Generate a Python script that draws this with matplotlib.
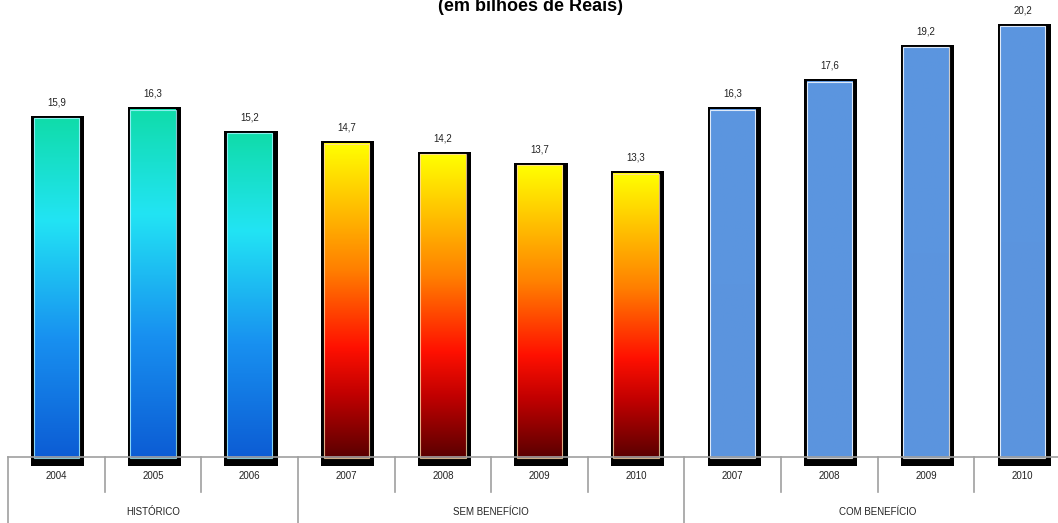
import numpy as np
import matplotlib
matplotlib.use("Agg")
import matplotlib.pyplot as plt
from matplotlib.colors import LinearSegmentedColormap
from matplotlib.patches import Rectangle

# data
years = ["2004", "2005", "2006", "2007", "2008", "2009", "2010",
         "2007", "2008", "2009", "2010"]
values = [15.9, 16.3, 15.2, 14.7, 14.2, 13.7, 13.3, 16.3, 17.6, 19.2, 20.2]
groups = ["HISTÓRICO", "SEM BENEFÍCIO", "COM BENEFÍCIO"]
group_sizes = [3, 4, 4]

# gradients, listed bottom -> top
cmaps = [
    LinearSegmentedColormap.from_list("hist", [(0.0, "#0c5cd4"), (0.35, "#1890f0"),
                                               (0.7, "#22e4f4"), (1.0, "#10dcaa")]),
    LinearSegmentedColormap.from_list("sem", [(0.0, "#5a0000"), (0.2, "#c00000"),
                                              (0.35, "#ff1000"), (0.6, "#ff8000"),
                                              (1.0, "#ffff00")]),
    LinearSegmentedColormap.from_list("com", ["#5b94de", "#5b96e0"]),
]
edge_colors = ["#a8f4ff", "#ffd8a8", "#ffffff"]

plt.rcParams["font.family"] = ["Liberation Sans", "DejaVu Sans"]

fig = plt.figure(figsize=(10.58, 5.23), dpi=100)
ax = fig.add_axes([8 / 1058, 66 / 523, 1063 / 1058, 457 / 523])
ax.set_xlim(-0.5, len(values) - 0.5)
ax.set_ylim(0, 21.36)
ax.axis("off")

grad = np.linspace(0, 1, 256).reshape(-1, 1)
grp_idx = np.repeat(np.arange(len(groups)), group_sizes)

x = np.arange(len(values))
# black frame behind each bar
ax.bar(x + 0.015, np.array(values) + 0.45, width=0.55, bottom=-0.4,
       color="black", zorder=2, clip_on=False)
for xi, v, g in zip(x, values, grp_idx):
    ax.imshow(grad, cmap=cmaps[g], origin="lower", aspect="auto",
              extent=(xi - 0.235, xi + 0.235, -0.05, v - 0.06),
              zorder=3, clip_on=False)
    ax.add_patch(Rectangle((xi - 0.235, -0.05), 0.47, v - 0.01,
                           fill=False, ec=edge_colors[g], lw=0.8, alpha=0.8,
                           zorder=3.5, clip_on=False))
    ax.text(xi, v + 0.45, f"{v:.1f}".replace(".", ","), ha="center",
            va="bottom", fontsize=7, color="#222222", zorder=5)
    ax.text(xi, -0.9, years[xi], ha="center", va="center", fontsize=7,
            color="#222222", clip_on=False)

# category axis
line_kw = dict(color="#a0a0a0", lw=1.2, clip_on=False, zorder=4)
ax.plot([-0.5, len(values) - 0.5], [0, 0], **line_kw)
bounds = np.cumsum([0] + group_sizes) - 0.5
for b in np.arange(-0.5, len(values) + 0.5):
    low = -3.2 if b in bounds else -1.64
    ax.plot([b, b], [0, low], **line_kw)
for name, lo, hi in zip(groups, bounds[:-1], bounds[1:]):
    ax.text((lo + hi) / 2, -2.57, name, ha="center", va="center", fontsize=7,
            color="#222222", clip_on=False)

fig.text(530 / 1058, 1 - 11 / 523, "(em bilhões de Reais)", ha="center",
         va="baseline", fontsize=13, fontweight="bold")

fig.savefig("out.png", dpi=100)
